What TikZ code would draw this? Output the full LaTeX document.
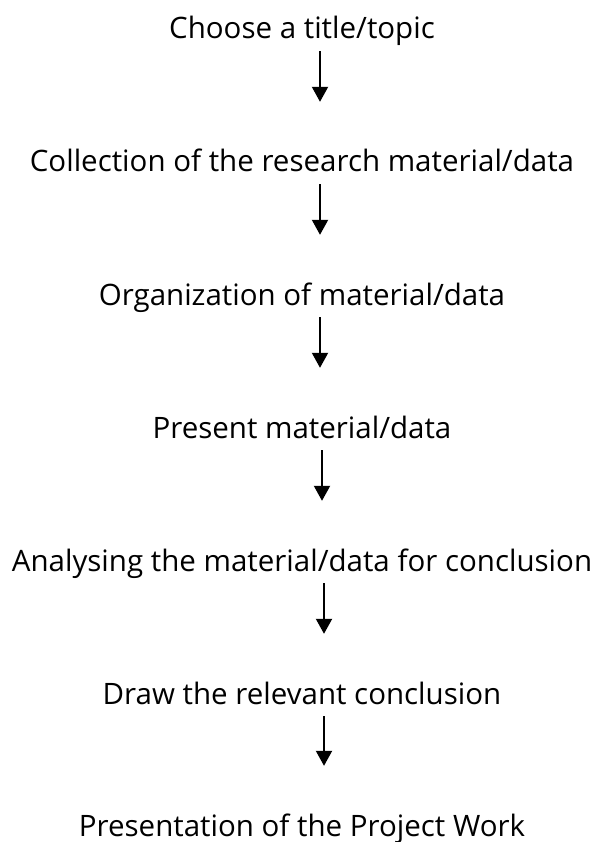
\documentclass[tikz,border=0pt]{standalone}
\usepackage{fontspec}
\setmainfont{Open Sans}
\usetikzlibrary{arrows.meta}
\begin{document}
\begin{tikzpicture}[x=1pt, y=-1pt,
    stage/.style={anchor=base, inner sep=0pt, text height=22pt, text depth=7pt,
      font=\fontsize{29.5}{35}\selectfont},
    flow/.style={line width=2pt, -{Triangle[width=16pt,length=15pt]},
      shorten <=5pt, shorten >=48pt}]
    \useasboundingbox (0,0) rectangle (592,842);
    \node[stage] (title) at (302,39) {Choose a title/topic};
    \node[stage] (collect) at (302,172) {Collection of the research material/data};
    \node[stage] (organize) at (302,305) {Organization of material/data};
    \node[stage] (present) at (302,438) {Present material/data};
    \node[stage] (analyse) at (302,571) {Analysing the material/data for conclusion};
    \node[stage] (conclude) at (302,704) {Draw the relevant conclusion};
    \node[stage] (report) at (302,836) {Presentation of the Project Work};
    \draw[flow] ([xshift=18pt]title.south) -- ([xshift=18pt]collect.north);
    \draw[flow] ([xshift=18pt]collect.south) -- ([xshift=18pt]organize.north);
    \draw[flow] ([xshift=18pt]organize.south) -- ([xshift=18pt]present.north);
    \draw[flow] ([xshift=20pt]present.south) -- ([xshift=20pt]analyse.north);
    \draw[flow] ([xshift=22pt]analyse.south) -- ([xshift=22pt]conclude.north);
    \draw[flow] ([xshift=22pt]conclude.south) -- ([xshift=22pt]report.north);
  \end{tikzpicture}
\end{document}
